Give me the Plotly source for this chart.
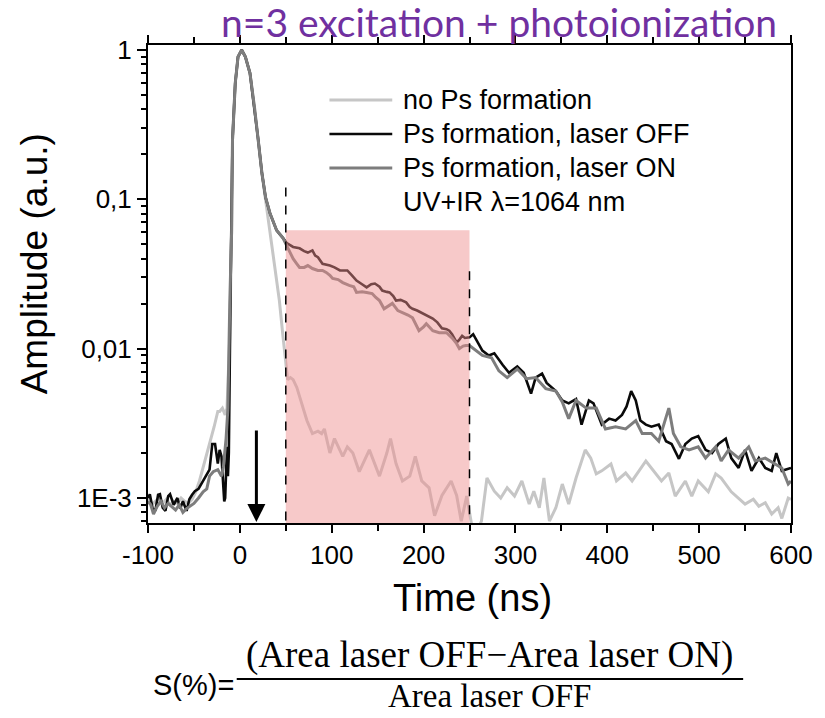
import numpy as np
import plotly.graph_objects as go

# ---------------- data ----------------
t_noPs = [-100, -96, -92, -88, -84, -80, -76, -72, -68, -64, -60, -56, -52, -48, -44, -40, -36, -32, -28,
          -24, -22, -19, -16, -14, -11, -9, -8, -5, -2, 2, 6, 11, 16, 20, 24, 28, 31, 35, 40, 43, 47, 50,
          52, 55, 58, 62, 67, 73, 79, 85, 89, 92, 98, 103, 112, 117, 123, 130, 141, 152, 160, 164, 170,
          177, 185, 191, 198, 206, 212, 220, 230, 236, 241, 247, 252, 258, 263, 269, 277, 284, 291, 299,
          307, 315, 320, 326, 331, 337, 344, 351, 358, 366, 376, 382, 388, 394, 404, 410, 420, 427, 442,
          453, 459, 467, 474, 485, 492, 499, 510, 518, 524, 535, 543, 550, 559, 565, 572, 579, 586, 590,
          597, 600]
a_noPs = [0.00100, 0.00090, 0.00095, 0.00100, 0.00092, 0.00098, 0.00090, 0.00095, 0.00092, 0.00100,
          0.00095, 0.00092, 0.00098, 0.0011, 0.0013, 0.0016, 0.0019, 0.0024, 0.0030, 0.0038, 0.0038,
          0.0040, 0.0036, 0.0040, 0.012, 0.06, 0.25, 0.6, 0.9, 1.0, 0.9, 0.70, 0.41, 0.25, 0.15, 0.10,
          0.075, 0.050, 0.029, 0.021, 0.012, 0.0078, 0.0062, 0.0064, 0.0062, 0.0055, 0.0043, 0.0033,
          0.0027, 0.0028, 0.0027, 0.0029, 0.0020, 0.0025, 0.0019, 0.0022, 0.0020, 0.0015, 0.0021, 0.0014,
          0.0020, 0.0025, 0.0017, 0.0013, 0.0014, 0.0019, 0.00130, 0.00117, 0.00076, 0.00104, 0.00130,
          0.00104, 0.00070, 0.00103, 0.00068, 0.00060, 0.00070, 0.00136, 0.00111, 0.00100, 0.00117,
          0.00103, 0.00130, 0.00091, 0.00111, 0.00086, 0.00136, 0.00070, 0.00086, 0.00124, 0.00091,
          0.00136, 0.0021, 0.00185, 0.00145, 0.00152, 0.00169, 0.00130, 0.00147, 0.00130, 0.00177,
          0.00145, 0.00130, 0.00147, 0.00103, 0.00130, 0.00103, 0.00130, 0.00110, 0.00145, 0.00136,
          0.00110, 0.00100, 0.00091, 0.00098, 0.00088, 0.00093, 0.00078, 0.00086, 0.00073, 0.00100,
          0.00098]

t_off = [-100, -98, -95, -92, -89, -87, -84, -81, -78, -76, -72, -68, -65, -62, -58, -55, -52, -49, -45,
         -40, -36, -33, -30, -27, -24, -22, -20, -17, -16, -14, -13, -12, -10, -8, -5, -2, 2, 6, 11, 16,
         20, 24, 28, 33, 40, 47, 51, 58, 65, 70, 74, 79, 82, 85, 90, 98, 103, 109, 117, 122, 127, 133,
         138, 143, 147, 152, 155, 160, 163, 167, 170, 175, 181, 185, 188, 193, 199, 205, 210, 215, 220,
         225, 228, 231, 236, 239, 242, 245, 248, 250, 254, 258, 264, 271, 277, 286, 293, 302, 309, 317,
         322, 329, 334, 344, 351, 358, 366, 372, 380, 385, 394, 402, 409, 416, 421, 426, 431, 436, 442,
         448, 456, 464, 470, 478, 485, 492, 499, 507, 514, 521, 529, 535, 543, 550, 557, 565, 572, 579,
         584, 590, 597, 600]
a_off = [0.0010, 0.00106, 0.00085, 0.00082, 0.00105, 0.00106, 0.00086, 0.00082, 0.00103, 0.00106,
         0.00090, 0.00100, 0.00085, 0.00095, 0.00082, 0.00098, 0.00105, 0.00111, 0.00115, 0.00130,
         0.00145, 0.00155, 0.0023, 0.0023, 0.0017, 0.0021, 0.0019, 0.00095, 0.0010, 0.0022, 0.0014,
         0.0020, 0.03, 0.25, 0.6, 0.9, 1.0, 0.9, 0.70, 0.41, 0.25, 0.15, 0.103, 0.080, 0.062, 0.055,
         0.051, 0.048, 0.047, 0.045, 0.044, 0.0455, 0.042, 0.041, 0.037, 0.036, 0.035, 0.0334, 0.0334,
         0.031, 0.0286, 0.027, 0.0257, 0.027, 0.0273, 0.026, 0.0245, 0.0240, 0.0238, 0.0225, 0.0210,
         0.0212, 0.0204, 0.019, 0.0185, 0.018, 0.0172, 0.0165, 0.0159, 0.0150, 0.0137, 0.0135, 0.0132,
         0.0125, 0.0110, 0.0115, 0.0122, 0.0118, 0.0119, 0.0119, 0.0125, 0.0113, 0.0097, 0.0090, 0.0093,
         0.0078, 0.0069, 0.0076, 0.0069, 0.0050, 0.0064, 0.0068, 0.0059, 0.0052, 0.0045, 0.0043, 0.0046,
         0.0031, 0.0045, 0.0043, 0.0031, 0.0034, 0.0033, 0.0036, 0.0041, 0.0052, 0.0045, 0.0033, 0.0031,
         0.0030, 0.0031, 0.0024, 0.0023, 0.00183, 0.0023, 0.0025, 0.0026, 0.0021, 0.0020, 0.0023, 0.0025,
         0.00185, 0.00159, 0.0021, 0.00152, 0.00185, 0.00159, 0.00152, 0.0020, 0.00152, 0.00157, 0.00159]

t_on = [-100, -97, -94, -90, -86, -82, -78, -74, -70, -66, -62, -58, -54, -50, -45, -40, -36, -33, -29,
        -24, -20, -18, -15, -13, -11, -9, -8, -5, -2, 2, 6, 11, 16, 20, 24, 28, 33, 40, 47, 51, 56, 58,
        62, 65, 70, 74, 79, 85, 90, 94, 98, 101, 107, 112, 119, 124, 127, 133, 138, 144, 148, 152, 157,
        163, 166, 172, 177, 183, 188, 195, 200, 203, 210, 217, 225, 231, 236, 239, 243, 246, 250, 257,
        264, 274, 282, 291, 302, 312, 322, 333, 344, 351, 358, 366, 377, 388, 398, 409, 420, 431, 438,
        448, 456, 467, 472, 480, 489, 499, 507, 518, 524, 532, 543, 554, 561, 572, 583, 590, 597, 600]
a_on = [0.00095, 0.0009, 0.00078, 0.00088, 0.00095, 0.00086, 0.00092, 0.00088, 0.00083, 0.00090,
        0.00080, 0.00085, 0.00088, 0.00092, 0.00100, 0.00110, 0.00115, 0.00140, 0.00150, 0.00155,
        0.00140, 0.0016, 0.0025, 0.004, 0.02, 0.06, 0.25, 0.6, 0.9, 1.0, 0.9, 0.70, 0.41, 0.25, 0.15,
        0.103, 0.080, 0.062, 0.055, 0.049, 0.042, 0.040, 0.037, 0.035, 0.035, 0.036, 0.0344, 0.0334,
        0.0334, 0.0324, 0.031, 0.0295, 0.029, 0.0277, 0.0265, 0.026, 0.0238, 0.024, 0.0238, 0.0234,
        0.022, 0.0210, 0.0185, 0.0195, 0.0201, 0.018, 0.0175, 0.0168, 0.0161, 0.0132, 0.0140, 0.0147,
        0.0132, 0.0128, 0.0128, 0.0118, 0.0108, 0.0100, 0.0104, 0.0105, 0.0105, 0.0097, 0.0090, 0.0087,
        0.0071, 0.0064, 0.0073, 0.0063, 0.0064, 0.0054, 0.0052, 0.0044, 0.0034, 0.0045, 0.0040, 0.0040,
        0.0029, 0.0030, 0.0029, 0.0033, 0.0027, 0.0027, 0.0024, 0.0040, 0.0027, 0.0022, 0.0021, 0.0022,
        0.00185, 0.0022, 0.00177, 0.0021, 0.00185, 0.0022, 0.00177, 0.00185, 0.00169, 0.00159, 0.00124,
        0.00130]

window_t = [50, 250]          # integration window (ns)
window_top = 0.062            # top of shaded window
dash_top = [0.12, 0.033]      # top of dashed markers at window edges
arrow_t = 18
arrow_top, arrow_bottom = 0.0029, 0.00069

x_ticks = [-100, 0, 100, 200, 300, 400, 500, 600]
x_ticktext = ["-100", "0", "100", "200", "300", "400", "500", "600"]
y_ticks = [0.001, 0.01, 0.1, 1]
y_ticktext = ["1E-3", "0,01", "0,1", "1"]
y_minor = [m * 10.0 ** e for e in (-4, -3, -2, -1) for m in range(2, 10)]
y_minor = [v for v in y_minor if 0.00065 < v < 1.0]

legend_labels = ["no Ps formation", "Ps formation, laser OFF", "Ps formation, laser ON"]
legend_note = "UV+IR λ=1064 nm"

# ---------------- styles ----------------
c_light, c_black, c_gray = "#c6c6c6", "#0a0a0a", "#7d7d7d"
styles = [dict(color=c_light, width=3), dict(color=c_black, width=2.6), dict(color=c_gray, width=3)]
ymin, ymax = 0.00068, 1.08
sans = "Liberation Sans, Arial"
serif = "Liberation Serif, Times New Roman"

fig = go.Figure()
for tt, aa, st, nm in zip([t_noPs, t_off, t_on], [a_noPs, a_off, a_on], styles, legend_labels):
    fig.add_trace(go.Scatter(x=tt, y=aa, mode="lines", line=st, name=nm, showlegend=False,
                             hoverinfo="skip"))

# shaded window (drawn above data, semi-transparent)
fig.add_trace(go.Scatter(x=[window_t[0], window_t[1], window_t[1], window_t[0], window_t[0]],
                         y=[0.0005, 0.0005, window_top, window_top, 0.0005],
                         mode="lines", fill="toself", fillcolor="rgba(238,140,140,0.47)",
                         line=dict(width=0), showlegend=False, hoverinfo="skip"))
# dashed window edges
for xt, top in zip(window_t, dash_top):
    fig.add_trace(go.Scatter(x=[xt, xt], y=[top, 0.0005], mode="lines",
                             line=dict(color="black", width=1.5, dash="dash"),
                             showlegend=False, hoverinfo="skip"))

fig.update_xaxes(range=[-100, 600], tickmode="array", tickvals=x_ticks, ticktext=x_ticktext,
                 ticks="outside", ticklen=8, tickwidth=2, tickcolor="black",
                 minor=dict(ticks="outside", dtick=50, tick0=0, ticklen=6, tickwidth=2, tickcolor="black"),
                 showline=True, linecolor="black", linewidth=2, mirror="ticks",
                 showgrid=False, zeroline=False,
                 tickfont=dict(family=sans, size=26, color="black"))
fig.update_yaxes(type="log", range=[np.log10(ymin), np.log10(ymax)],
                 tickmode="array", tickvals=y_ticks, ticktext=y_ticktext,
                 ticks="outside", ticklen=9, tickwidth=2, tickcolor="black",
                 minor=dict(ticks="outside", tickmode="array", tickvals=y_minor, ticklen=5,
                            tickwidth=2, tickcolor="black"),
                 showline=True, linecolor="black", linewidth=2, mirror=True,
                 showgrid=False, zeroline=False,
                 tickfont=dict(family=sans, size=26, color="black"))

L, R, T, B = 148, 32, 45, 195
W, H = 825, 718
pw, ph = W - L - R, H - T - B


def px(x):
    return (x - L) / pw


def py(y):
    return (H - B - y) / ph


ann = []
# axis titles
ann.append(dict(text="Amplitude (a.u.)", x=px(34), y=py(264), textangle=-90,
                font=dict(family=sans, size=37, color="black")))
ann.append(dict(text="Time (ns)", x=px(474), y=py(598),
                font=dict(family=sans, size=38, color="black")))
# title
ann.append(dict(text="n=3 excitation + photoionization", x=px(500), y=py(22),
                font=dict(family="Lato, Open Sans", size=39, color="#7030A0")))
# legend
leg_rows = [100, 134, 168, 202]
for lab, st, ry in zip(legend_labels, styles, leg_rows):
    fig.add_shape(type="line", xref="paper", yref="paper", x0=px(330), x1=px(393),
                  y0=py(ry), y1=py(ry), line=dict(color=st["color"], width=st["width"]))
    ann.append(dict(text=lab, x=px(402), y=py(ry), xanchor="left",
                    font=dict(family=sans, size=27, color="black")))
ann.append(dict(text=legend_note, x=px(402), y=py(leg_rows[3]), xanchor="left",
                font=dict(family=sans, size=27, color="black")))
# formula
ann.append(dict(text="S(%)=", x=px(236), y=py(685), xanchor="right",
                font=dict(family=sans, size=29, color="black")))
ann.append(dict(text="(Area laser OFF\u2212Area laser ON)", x=px(491), y=py(655),
                font=dict(family=serif, size=37, color="black")))
ann.append(dict(text="Area laser OFF", x=px(491), y=py(696),
                font=dict(family=serif, size=33, color="black")))
fig.add_shape(type="line", xref="paper", yref="paper", x0=px(237), x1=px(745),
              y0=py(679), y1=py(679), line=dict(color="black", width=2))

for a in ann:
    a.setdefault("xanchor", "center")
    a.setdefault("yanchor", "middle")
    a.update(xref="paper", yref="paper", showarrow=False)
    fig.add_annotation(**a)

# arrow
fig.add_annotation(x=arrow_t, y=np.log10(arrow_bottom), ax=arrow_t, ay=np.log10(arrow_top),
                   xref="x", yref="y", axref="x", ayref="y", showarrow=True, text="",
                   arrowhead=2, arrowsize=1.2, arrowwidth=3, arrowcolor="black")

fig.update_layout(width=W, height=H, autosize=False,
                  margin=dict(l=L, r=R, t=T, b=B),
                  paper_bgcolor="white", plot_bgcolor="white", showlegend=False)

fig.write_html("out.html")
